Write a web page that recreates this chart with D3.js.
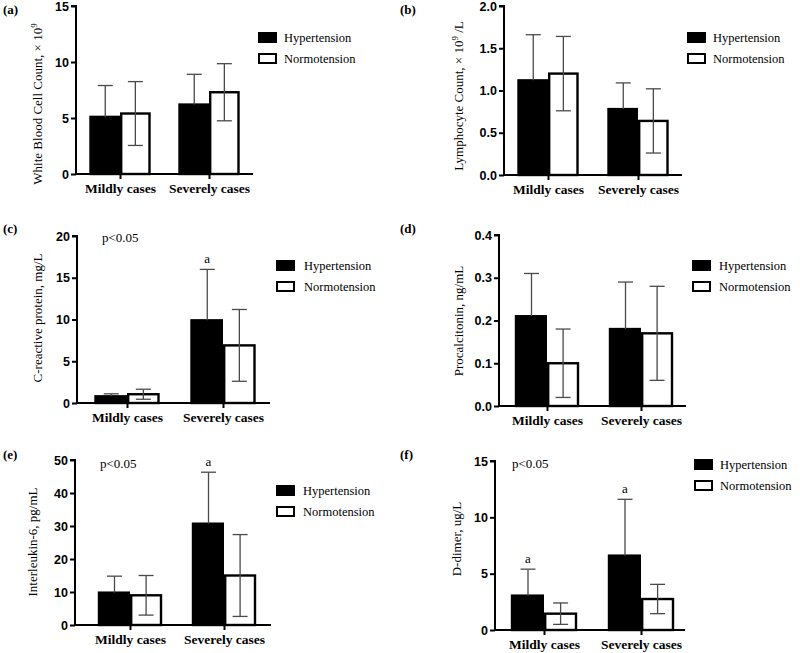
<!DOCTYPE html>
<html><head><meta charset="utf-8">
<script src="https://cdn.jsdelivr.net/npm/d3@7"></script>
<style>
body{margin:0;background:#fff}svg{display:block}
.serif{font-family:"Liberation Serif","DejaVu Serif","Times New Roman",serif}
.sans{font-family:"Liberation Sans","DejaVu Sans",Arial,sans-serif}
</style>
</head><body>
<svg id="chart" width="800" height="653"></svg>
<script>
// ---- data ----
const categories = ["Mildly cases", "Severely cases"];
const seriesNames = ["Hypertension", "Normotension"];

const wbcHyper = [5.1, 6.2],   wbcHyperSD = [2.8, 2.7];
const wbcNormo = [5.4, 7.3],   wbcNormoSD = [2.85, 2.55];
const wbcTicks = [0, 5, 10, 15];

const lymHyper = [1.12, 0.78], lymHyperSD = [0.54, 0.31];
const lymNormo = [1.2, 0.64],  lymNormoSD = [0.44, 0.38];
const lymTicks = [0, 0.5, 1.0, 1.5, 2.0];

const crpHyper = [0.8, 9.9],   crpHyperSD = [0.3, 6.1];
const crpNormo = [1.05, 6.9],  crpNormoSD = [0.6, 4.3];
const crpTicks = [0, 5, 10, 15, 20];

const pctHyper = [0.21, 0.18], pctHyperSD = [0.10, 0.11];
const pctNormo = [0.10, 0.17], pctNormoSD = [0.08, 0.11];
const pctTicks = [0, 0.1, 0.2, 0.3, 0.4];

const il6Hyper = [9.8, 30.7],  il6HyperSD = [5.0, 15.6];
const il6Normo = [9.0, 15.0],  il6NormoSD = [6.0, 12.4];
const il6Ticks = [0, 10, 20, 30, 40, 50];

const ddHyper = [3.05, 6.6],   ddHyperSD = [2.35, 5.0];
const ddNormo = [1.45, 2.75],  ddNormoSD = [0.95, 1.3];
const ddTicks = [0, 5, 10, 15];

// significance marks: [seriesIndex, categoryIndex]
const crpMarks = [[0, 1]];
const il6Marks = [[0, 1]];
const ddMarks = [[0, 0], [0, 1]];

// ---- layout ----
const panels = [
  {label:"(a)", lx:3,   ly:14,  title:["White Blood Cell Count, × 10","9",""], tx:42, ty:104,
   hyper:wbcHyper, hyperSD:wbcHyperSD, normo:wbcNormo, normoSD:wbcNormoSD, ticks:wbcTicks, fmt:d3.format("d"),
   ax:76, y0:174, yTop:6, xEnd:253, c1:120, c2:209, bw:29.5,
   legX:258, legY:32, textX:284, marks:[], p:false},
  {label:"(b)", lx:400, ly:14,  title:["Lymphocyte Count, × 10","9"," /L"], tx:463, ty:96,
   hyper:lymHyper, hyperSD:lymHyperSD, normo:lymNormo, normoSD:lymNormoSD, ticks:lymTicks, fmt:d3.format(".1f"),
   ax:504, y0:175, yTop:6, xEnd:682, c1:548, c2:638, bw:29.5,
   legX:687, legY:32, textX:713, marks:[], p:false},
  {label:"(c)", lx:3,   ly:233, title:["C-reactive protein, mg/L"], tx:42, ty:318,
   hyper:crpHyper, hyperSD:crpHyperSD, normo:crpNormo, normoSD:crpNormoSD, ticks:crpTicks, fmt:d3.format("d"),
   ax:77, y0:403, yTop:236, xEnd:270, c1:127, c2:223, bw:31.5,
   legX:276, legY:260, textX:304, marks:crpMarks, p:true, px:102, py:242},
  {label:"(d)", lx:400, ly:233, title:["Procalcitonin, ng/mL"], tx:463, ty:321,
   hyper:pctHyper, hyperSD:pctHyperSD, normo:pctNormo, normoSD:pctNormoSD, ticks:pctTicks, fmt:d3.format(".1f"),
   ax:499, y0:406, yTop:235, xEnd:686, c1:547, c2:641, bw:31,
   legX:692, legY:260, textX:719, marks:[], p:false},
  {label:"(e)", lx:3,   ly:459, title:["Interleukin-6, pg/mL"], tx:37, ty:542,
   hyper:il6Hyper, hyperSD:il6HyperSD, normo:il6Normo, normoSD:il6NormoSD, ticks:il6Ticks, fmt:d3.format("d"),
   ax:75, y0:625, yTop:460, xEnd:271, c1:130, c2:224, bw:31,
   legX:276, legY:485, textX:303, marks:il6Marks, p:true, px:100, py:468},
  {label:"(f)", lx:400, ly:459, title:["D-dimer, ug/L"], tx:461, ty:539,
   hyper:ddHyper, hyperSD:ddHyperSD, normo:ddNormo, normoSD:ddNormoSD, ticks:ddTicks, fmt:d3.format("d"),
   ax:495, y0:630, yTop:461, xEnd:685, c1:544, c2:641, bw:32,
   legX:694, legY:459, textX:720, marks:ddMarks, p:true, px:512, py:468}
];

const svg = d3.select("#chart");
const errColor = "#4a4a4a";

panels.forEach(P => {
  const g = svg.append("g");
  const y = d3.scaleLinear().domain([P.ticks[0], P.ticks[P.ticks.length-1]]).range([P.y0, P.yTop]);
  const x0 = d3.scalePoint().domain(categories).range([P.c1, P.c2]);
  const x1 = d3.scaleBand().domain(seriesNames).range([-P.bw, P.bw]).padding(0);

  const data = [];
  categories.forEach((c, i) => {
    data.push({cat:c, ci:i, s:seriesNames[0], si:0, v:P.hyper[i], sd:P.hyperSD[i]});
    data.push({cat:c, ci:i, s:seriesNames[1], si:1, v:P.normo[i], sd:P.normoSD[i]});
  });

  // bars
  g.selectAll("rect.bar").data(data).enter().append("rect")
    .attr("class","bar")
    .attr("x", d => x0(d.cat) + x1(d.s) + (d.si===0 ? 0 : 1.2))
    .attr("width", d => x1.bandwidth() - 1.2)
    .attr("y", d => y(d.v))
    .attr("height", d => y(0) - y(d.v))
    .attr("fill", d => d.si===0 ? "#000" : "#fff")
    .attr("stroke", "#000")
    .attr("stroke-width", 2.4);

  // error bars
  const cap = 7.5;
  data.forEach(d => {
    const cx = x0(d.cat) + x1(d.s) + x1.bandwidth()/2 + (d.si===0 ? 0 : 0.6);
    const top = y(d.v + d.sd);
    const bot = d.si===0 ? y(d.v) : y(Math.max(0, d.v - d.sd));
    g.append("line").attr("x1",cx).attr("x2",cx).attr("y1",top).attr("y2",bot)
      .attr("stroke",errColor).attr("stroke-width",1.3);
    g.append("line").attr("x1",cx-cap).attr("x2",cx+cap).attr("y1",top).attr("y2",top)
      .attr("stroke",errColor).attr("stroke-width",1.3);
    if (d.si===1) {
      g.append("line").attr("x1",cx-cap).attr("x2",cx+cap).attr("y1",bot).attr("y2",bot)
        .attr("stroke",errColor).attr("stroke-width",1.3);
    }
  });

  // y axis
  const yAxis = d3.axisLeft(y).tickValues(P.ticks).tickFormat(P.fmt).tickSize(5).tickPadding(2);
  const ya = g.append("g").attr("transform", `translate(${P.ax},0)`).call(yAxis).attr("font-family",null);
  ya.select(".domain").attr("stroke","#000").attr("stroke-width",2).attr("d", `M-5,${P.yTop}H0V${P.y0}`);
  ya.selectAll(".tick line").attr("stroke","#000").attr("stroke-width",2);
  ya.selectAll(".tick text").attr("class","sans").attr("font-weight","bold").attr("font-size",12.5).attr("fill","#000");

  // x axis
  const xAxis = d3.axisBottom(x0).tickSize(5).tickPadding(4);
  const xa = g.append("g").attr("transform", `translate(0,${P.y0})`).call(xAxis).attr("font-family",null);
  xa.select(".domain").attr("stroke","#000").attr("stroke-width",2).attr("d", `M${P.ax},0H${P.xEnd}`);
  xa.selectAll(".tick line").attr("stroke","#000").attr("stroke-width",2);
  xa.selectAll(".tick text").attr("class","serif").attr("font-weight","bold").attr("font-size",13.5).attr("fill","#000");

  // y title
  const t = g.append("text").attr("class","serif")
    .attr("transform", `translate(${P.tx},${P.ty}) rotate(-90)`)
    .attr("text-anchor","middle")
    .attr("font-size",13).attr("fill","#000");
  t.append("tspan").text(P.title[0]);
  if (P.title.length > 1) {
    t.append("tspan").attr("dy",-5).attr("font-size",9).text(P.title[1]);
    t.append("tspan").attr("dy",5).text(P.title[2]);
  }

  // panel label
  g.append("text").attr("class","serif").attr("x",P.lx).attr("y",P.ly).text(P.label)
    .attr("font-weight","bold").attr("font-size",13).attr("fill","#000");

  // legend
  seriesNames.forEach((s, i) => {
    const ly = P.legY + i*21;
    g.append("rect").attr("x",P.legX+1).attr("y",ly+1).attr("width",17).attr("height",9)
      .attr("fill", i===0 ? "#000" : "#fff").attr("stroke","#000").attr("stroke-width",2);
    g.append("text").attr("class","serif").attr("x",P.textX).attr("y",ly+10).text(s)
      .attr("font-size",12.5).attr("fill","#000");
  });

  // p-value
  if (P.p) {
    g.append("text").attr("class","serif").attr("x",P.px).attr("y",P.py).text("p<0.05")
      .attr("font-size",13).attr("fill","#000");
  }
  // significance marks
  P.marks.forEach(([si, ci]) => {
    const vals = si===0 ? P.hyper : P.normo;
    const sds = si===0 ? P.hyperSD : P.normoSD;
    const cx = x0(categories[ci]) + x1(seriesNames[si]) + x1.bandwidth()/2;
    g.append("text").attr("class","serif").attr("x",cx).attr("y", y(vals[ci] + sds[ci]) - 6).text("a")
      .attr("text-anchor","middle").attr("font-size",13).attr("fill","#000");
  });
});
</script>
</body></html>
